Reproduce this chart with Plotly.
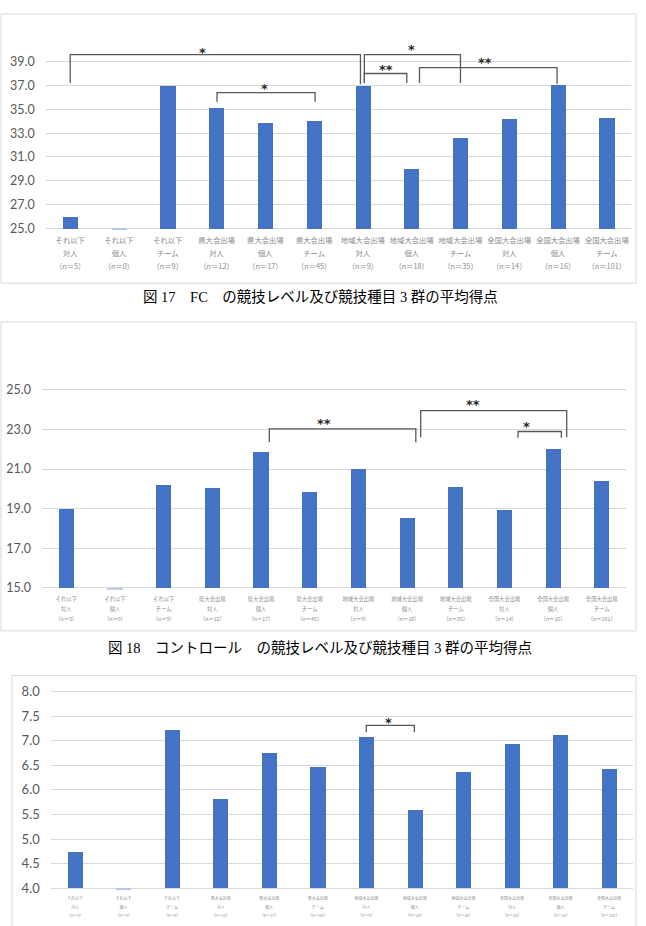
import plotly.graph_objects as go

# ---------------- data ----------------
levels = ["それ以下", "それ以下", "それ以下",
          "県大会出場", "県大会出場", "県大会出場",
          "地域大会出場", "地域大会出場", "地域大会出場",
          "全国大会出場", "全国大会出場", "全国大会出場"]
events = ["対人", "個人", "チーム"] * 4
n_counts = [5, 0, 9, 12, 17, 45, 9, 18, 35, 14, 16, 101]

fc_means = [26.0, 24.88, 37.0, 35.1, 33.9, 34.0, 36.95, 30.0, 32.6, 34.2, 37.05, 34.3]
control_means = [19.0, 14.93, 20.22, 20.07, 21.88, 19.85, 21.03, 18.55, 20.1, 18.93, 22.05, 20.4]
third_means = [4.74, 3.97, 7.21, 5.81, 6.74, 6.46, 7.08, 5.58, 6.36, 6.92, 7.11, 6.42]

fc_ticks = [25, 27, 29, 31, 33, 35, 37, 39]
control_ticks = [15, 17, 19, 21, 23, 25]
third_ticks = [4.0, 4.5, 5.0, 5.5, 6.0, 6.5, 7.0, 7.5, 8.0]

# significance brackets: (x0, x1, y_top, y_leg0, y_leg1, label, label_x, label_y)
fc_sig = [
    (0.0, 5.95, 39.58, 37.2, 37.1, "*", 2.71, 40.05),
    (6.03, 8.0, 39.58, 37.2, 37.2, "*", 6.99, 40.3),
    (6.03, 6.9, 38.0, 37.2, 37.2, "**", 6.48, 38.6),
    (7.16, 9.98, 38.5, 37.2, 37.15, "**", 8.51, 39.2),
    (3.01, 5.02, 36.4, 35.64, 35.64, "*", 3.98, 37.0),
]
control_sig = [
    (4.17, 7.18, 23.03, 22.36, 22.36, "**", 5.29, 23.48),
    (7.28, 10.28, 23.95, 22.61, 22.61, "**", 8.35, 24.41),
    (9.28, 10.17, 22.9, 22.58, 22.58, "*", 9.46, 23.3),
]
third_sig = [
    (6.0, 6.99, 7.31, 7.17, 7.17, "*", 6.45, 7.43),
]

captions = ["図 17　FC　の競技レベル及び競技種目 3 群の平均得点",
            "図 18　コントロール　の競技レベル及び競技種目 3 群の平均得点"]

# ---------------- layout helpers ----------------
W, H = 646, 926
def xd(a, b):
    return [a / W, b / W]
def yd(top, bottom):
    return [1 - bottom / H, 1 - top / H]
def py(v):
    return 1 - v / H

BAR = "#4472C4"
STUB = "#B4C7E7"
GRID = "#D9D9D9"
CJK = "Noto Sans CJK JP"

charts = [
    dict(means=fc_means, base=25, ticks=fc_ticks, sig=fc_sig,
         xdom=xd(45.8, 631.2), yrange=[24.85, 42.5], ydom=yd(20, 231.8),
         lab_base=10, lab_size=7.3, ysize=12.5, frame=(1, 14, 636, 285)),
    dict(means=control_means, base=15, ticks=control_ticks, sig=control_sig,
         xdom=xd(42.0, 626.1), yrange=[14.9, 28.0], ydom=yd(332.8, 593.5),
         lab_base=8, lab_size=5.3, ysize=12.5, frame=(1, 324, 636, 635)),
    dict(means=third_means, base=4.0, ticks=third_ticks, sig=third_sig,
         xdom=xd(50.75, 633.3), yrange=[3.96, 8.25], ydom=yd(683.6, 896),
         lab_base=6.7, lab_size=4.0, ysize=13, frame=(12, 680, 636, 960)),
]

idx = list(range(len(levels)))
fig = go.Figure()
shapes = []
annotations = []

for k, c in enumerate(charts):
    sfx = "" if k == 0 else str(k + 1)
    xa, ya = "x" + sfx, "y" + sfx
    colors = [STUB if n == 0 else BAR for n in n_counts]
    fig.add_trace(go.Bar(
        x=idx, y=[m - c["base"] for m in c["means"]], base=c["base"],
        width=0.31, marker=dict(color=colors, line=dict(width=0)),
        xaxis=xa, yaxis=ya, hoverinfo="skip", showlegend=False))

    s = c["lab_size"]
    ticktext = [
        f"<span style='font-size:{s}px'>{lv}</span><br>"
        f"<span style='font-size:{s}px'>{ev}</span><br>"
        f"<span style='font-size:{s}px'>（n＝{n}）</span>"
        for lv, ev, n in zip(levels, events, n_counts)]

    fig.layout["xaxis" + sfx] = dict(
        domain=c["xdom"], range=[-0.5, len(levels) - 0.5], anchor=ya,
        tickvals=idx, ticktext=ticktext, tickangle=0,
        tickfont=dict(size=c["lab_base"], color="#8C8C8C", family=CJK),
        showgrid=False, zeroline=False, showline=False, ticks="",
        ticklabelstandoff=2)
    fig.layout["yaxis" + sfx] = dict(
        domain=c["ydom"], range=c["yrange"], anchor=xa,
        tickvals=c["ticks"], tickformat=".1f",
        tickfont=dict(size=c["ysize"], color="#595959", family="Lato"),
        showgrid=True, gridcolor=GRID, gridwidth=1, zeroline=False,
        showline=False, ticks="", ticklabelstandoff=10)

    for (x0, x1, top, l0, l1, lab, lx, ly) in c["sig"]:
        shapes.append(dict(
            type="path", xref=xa, yref=ya,
            path=f"M {x0},{l0} L {x0},{top} L {x1},{top} L {x1},{l1}",
            line=dict(color="#595959", width=1.3), layer="above"))
        annotations.append(dict(
            x=lx, y=ly, xref=xa, yref=ya, text="<b>" + lab + "</b>",
            showarrow=False, font=dict(family="DejaVu Sans", size=13, color="#262626"),
            xanchor="center", yanchor="middle", yshift=-3))

    fx0, fy0, fx1, fy1 = c["frame"]
    shapes.append(dict(type="rect", xref="paper", yref="paper",
                       x0=fx0 / W, x1=fx1 / W, y0=py(fy1), y1=py(fy0),
                       line=dict(color=GRID, width=1), fillcolor="rgba(0,0,0,0)",
                       layer="below"))

for cap, yc in zip(captions, [299, 652]):
    annotations.append(dict(
        x=320 / W, y=py(yc), xref="paper", yref="paper", text=cap,
        showarrow=False, xanchor="center", yanchor="middle",
        font=dict(family="Liberation Serif, " + CJK, size=14.5, color="#000000")))

fig.update_layout(
    width=W, height=H, margin=dict(l=0, r=0, t=0, b=0),
    paper_bgcolor="white", plot_bgcolor="white",
    shapes=shapes, annotations=annotations, showlegend=False, bargap=0)

fig.write_html("out.html")
